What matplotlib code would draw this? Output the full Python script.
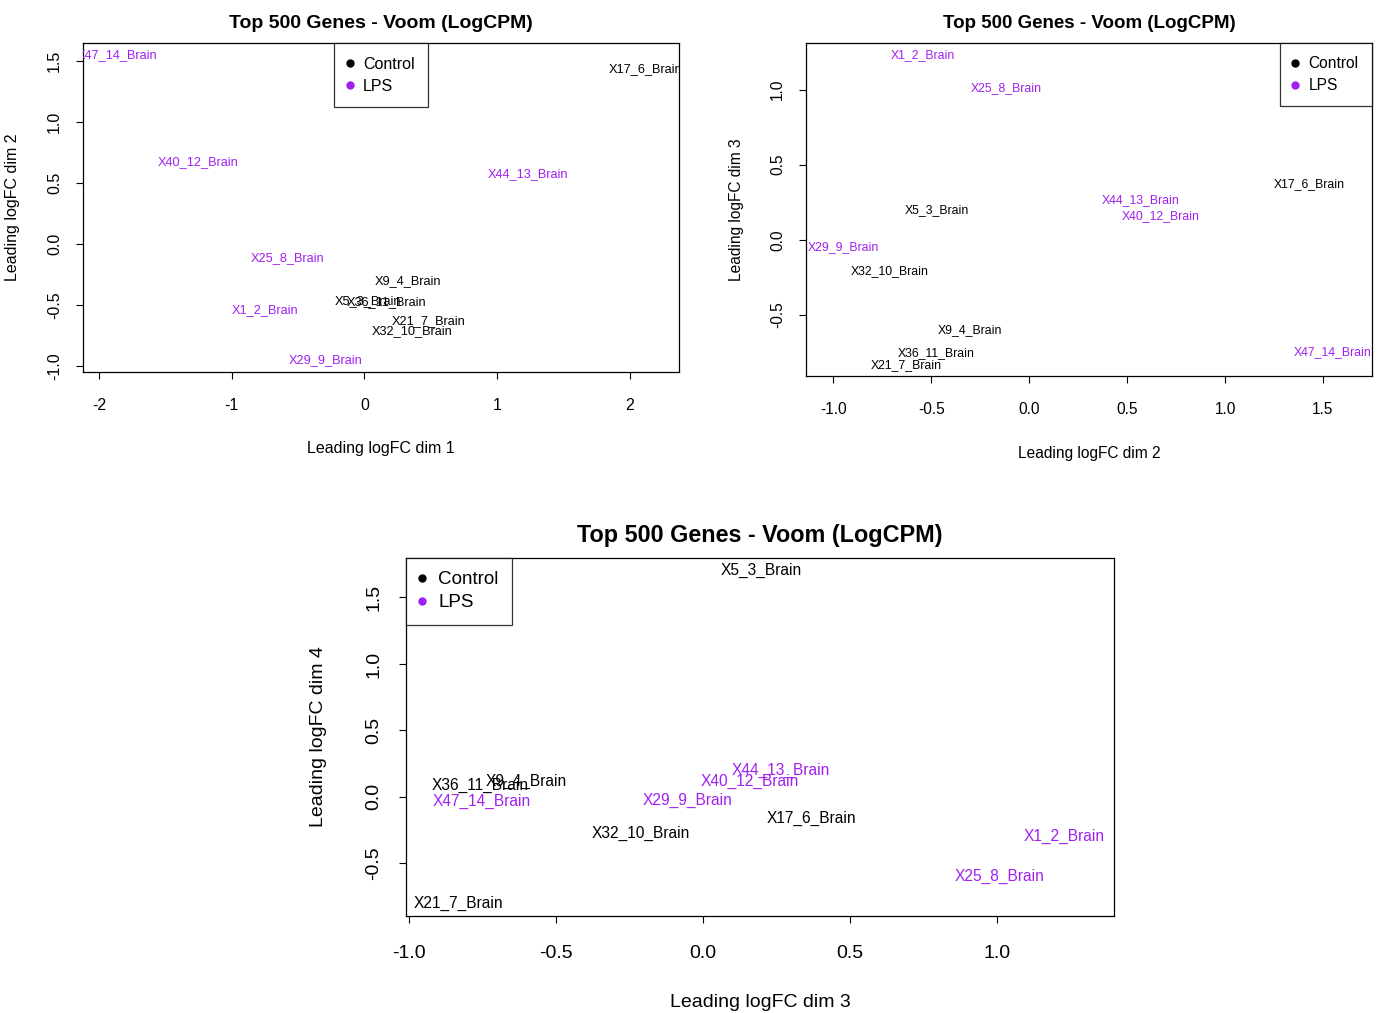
import matplotlib
matplotlib.use("Agg")
import matplotlib.pyplot as plt
from matplotlib.lines import Line2D

plt.rcParams['font.family'] = ['Liberation Sans', 'DejaVu Sans']

# Samples and groups
samples = ["X1_2_Brain", "X5_3_Brain", "X9_4_Brain", "X17_6_Brain", "X21_7_Brain",
           "X25_8_Brain", "X29_9_Brain", "X32_10_Brain", "X36_11_Brain",
           "X40_12_Brain", "X44_13_Brain", "X47_14_Brain"]
groups = ["LPS", "Control", "Control", "Control", "Control", "LPS",
          "LPS", "Control", "Control", "LPS", "LPS", "LPS"]

# Leading logFC coordinates
dim1 = [-0.75, 0.03, 0.33, 2.12, 0.48, -0.58, -0.29, 0.36, 0.17, -1.25, 1.23, -1.86]
dim2 = [-0.545, -0.47, -0.305, 1.43, -0.63, -0.12, -0.95, -0.715, -0.475, 0.67, 0.57, 1.55]
dim3 = [1.23, 0.20, -0.60, 0.37, -0.83, 1.01, -0.05, -0.21, -0.755, 0.16, 0.265, -0.75]
dim4 = [-0.294, 1.704, 0.115, -0.161, -0.80, -0.595, -0.03, -0.274, 0.085, 0.12, 0.196, -0.035]
dims = {1: dim1, 2: dim2, 3: dim3, 4: dim4}

colors = {"Control": "black", "LPS": "#A020F0"}
title = "Top 500 Genes - Voom (LogCPM)"

W, H = 1379, 1013
fig = plt.figure(figsize=(W / 100, H / 100), dpi=100)


def px_axes(left, top, right, bottom):
    return fig.add_axes([left / W, 1 - bottom / H, (right - left) / W, (bottom - top) / H])


def mds_panel(ax, dx, dy, xlim, ylim, xticks, yticks, xfmt, lab_fs, ax_fs, title_fs,
              title_pad, leg_loc, leg_fs, leg_space, tick_pad, ylab_x, xlab_y):
    x = dims[dx]
    y = dims[dy]
    for name, g, xi, yi in zip(samples, groups, x, y):
        ax.text(xi, yi, name, color=colors[g], fontsize=lab_fs, ha="center", va="center",
                clip_on=True)
    ax.set_xlim(xlim)
    ax.set_ylim(ylim)
    ax.set_xticks(xticks)
    ax.set_xticklabels([xfmt.format(v) for v in xticks])
    ax.set_yticks(yticks)
    ax.set_yticklabels(["{:.1f}".format(v) for v in yticks], rotation=90, va="center")
    ax.tick_params(direction="out", length=5, width=0.8, labelsize=ax_fs)
    ax.tick_params(axis="x", pad=tick_pad[0])
    ax.tick_params(axis="y", pad=tick_pad[1])
    for s in ax.spines.values():
        s.set_linewidth(0.9)
    ax.set_xlabel("Leading logFC dim {}".format(dx), fontsize=ax_fs)
    ax.set_ylabel("Leading logFC dim {}".format(dy), fontsize=ax_fs)
    ax.xaxis.set_label_coords(0.5, xlab_y)
    ax.yaxis.set_label_coords(ylab_x, 0.5)
    ax.set_title(title, fontsize=title_fs, fontweight="bold", pad=title_pad)
    handles = [Line2D([], [], marker="o", linestyle="", color=colors[k], markersize=5)
               for k in ["Control", "LPS"]]
    leg = ax.legend(handles, ["Control", "LPS"], loc=leg_loc, fontsize=leg_fs,
                    frameon=True, fancybox=False, borderaxespad=0, handletextpad=0.7,
                    handlelength=0.3, labelspacing=leg_space[0], borderpad=leg_space[1])
    leg.get_frame().set_edgecolor("black")
    leg.get_frame().set_linewidth(0.9)


ax1 = px_axes(83, 43, 679, 372)
mds_panel(ax1, 1, 2, (-2.12, 2.37), (-1.05, 1.645), [-2, -1, 0, 1, 2],
          [-1.0, -0.5, 0.0, 0.5, 1.0, 1.5], "{:d}", 9.2, 11.5, 14, 10.5,
          "upper center", 11.5, (0.45, 0.85), (14, 10), -0.105, -0.209)

ax2 = px_axes(806, 43, 1372, 376)
mds_panel(ax2, 2, 3, (-1.14, 1.75), (-0.906, 1.31), [-1.0, -0.5, 0.0, 0.5, 1.0, 1.5],
          [-0.5, 0.0, 0.5, 1.0], "{:.1f}", 8.8, 11.2, 13.5, 10.5,
          "upper right", 11.2, (0.45, 0.85), (14, 10), -0.11, -0.209)

ax3 = px_axes(406, 558, 1114, 916)
mds_panel(ax3, 3, 4, (-1.009, 1.398), (-0.896, 1.797), [-1.0, -0.5, 0.0, 0.5, 1.0],
          [-0.5, 0.0, 0.5, 1.0, 1.5], "{:.1f}", 11.2, 14, 16.8, 11.5,
          "upper left", 13.6, (0.3, 0.7), (16, 12), -0.112, -0.217)

fig.savefig("out.png", dpi=100)
